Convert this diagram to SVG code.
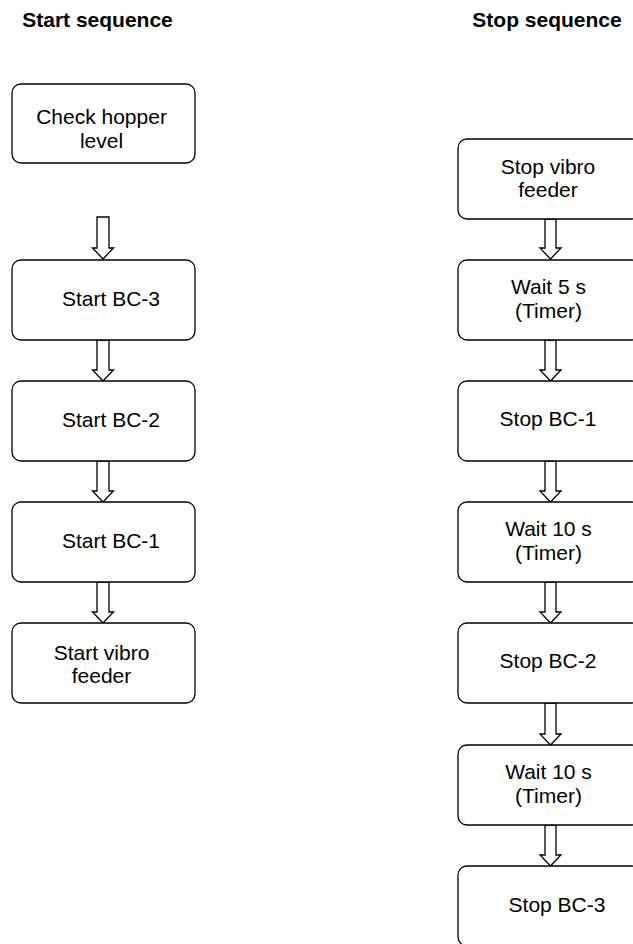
<svg xmlns="http://www.w3.org/2000/svg" width="633" height="944" viewBox="0 0 633 944">
<style>
.box{fill:#fff;stroke:#000;stroke-width:1.3}
.t{font-family:"Liberation Sans",Arial,Helvetica,sans-serif;font-size:21px;fill:#000;text-anchor:middle}
.h{font-family:"Liberation Sans",Arial,Helvetica,sans-serif;font-size:21px;font-weight:bold;fill:#000;text-anchor:middle}
.arr{fill:#fff;stroke:#000;stroke-width:1.3;stroke-linejoin:miter}
</style>
<rect width="633" height="944" fill="#fff"/>
<text class="h" x="97.5" y="27">Start sequence</text>
<text class="h" x="547" y="27">Stop sequence</text>

<g id="connectors">
<polygon class="arr" points="97,217 109,217 109,248 113.5,248 103,259 92.5,248 97,248"/>
<polygon class="arr" points="97,340 109,340 109,370 113.5,370 103,381 92.5,370 97,370"/>
<polygon class="arr" points="97,461 109,461 109,491 113.5,491 103,502 92.5,491 97,491"/>
<polygon class="arr" points="97,582 109,582 109,612 113.5,612 103,623 92.5,612 97,612"/>

<polygon class="arr" points="545,219 556,219 556,248 561,248 550.5,259 540,248 545,248"/>
<polygon class="arr" points="545,340 556,340 556,370 561,370 550.5,381 540,370 545,370"/>
<polygon class="arr" points="545,461 556,461 556,491 561,491 550.5,502 540,491 545,491"/>
<polygon class="arr" points="545,582 556,582 556,612 561,612 550.5,623 540,612 545,612"/>
<polygon class="arr" points="545,703 556,703 556,734 561,734 550.5,745 540,734 545,734"/>
<polygon class="arr" points="545,825 556,825 556,855 561,855 550.5,866 540,855 545,855"/>
</g>

<g id="check-hopper"><rect class="box" x="12" y="84" width="183" height="79" rx="9"/>
<text class="t" x="101.5" y="124">Check hopper</text><text class="t" x="101.5" y="148">level</text></g>
<g id="start-bc3"><rect class="box" x="12" y="260" width="183" height="80" rx="9"/>
<text class="t" x="111" y="306">Start BC-3</text></g>
<g id="start-bc2"><rect class="box" x="12" y="381" width="183" height="80" rx="9"/>
<text class="t" x="111" y="427">Start BC-2</text></g>
<g id="start-bc1"><rect class="box" x="12" y="502" width="183" height="80" rx="9"/>
<text class="t" x="111" y="548">Start BC-1</text></g>
<g id="start-vibro"><rect class="box" x="12" y="623" width="183" height="80" rx="9"/>
<text class="t" x="101.5" y="660">Start vibro</text><text class="t" x="101.5" y="683">feeder</text></g>

<g id="stop-vibro"><rect class="box" x="458" y="139" width="183" height="80" rx="9"/>
<text class="t" x="548" y="174">Stop vibro</text><text class="t" x="548" y="197">feeder</text></g>
<g id="wait-5"><rect class="box" x="458" y="260" width="183" height="80" rx="9"/>
<text class="t" x="548.5" y="294">Wait 5 s</text><text class="t" x="548.5" y="318">(Timer)</text></g>
<g id="stop-bc1"><rect class="box" x="458" y="381" width="183" height="80" rx="9"/>
<text class="t" x="548" y="426">Stop BC-1</text></g>
<g id="wait-10a"><rect class="box" x="458" y="502" width="183" height="80" rx="9"/>
<text class="t" x="548.5" y="536">Wait 10 s</text><text class="t" x="548.5" y="560">(Timer)</text></g>
<g id="stop-bc2"><rect class="box" x="458" y="623" width="183" height="80" rx="9"/>
<text class="t" x="548" y="668">Stop BC-2</text></g>
<g id="wait-10b"><rect class="box" x="458" y="745" width="183" height="80" rx="9"/>
<text class="t" x="548.5" y="779">Wait 10 s</text><text class="t" x="548.5" y="803">(Timer)</text></g>
<g id="stop-bc3"><rect class="box" x="458" y="866" width="183" height="80" rx="9"/>
<text class="t" x="557" y="912">Stop BC-3</text></g>
</svg>
